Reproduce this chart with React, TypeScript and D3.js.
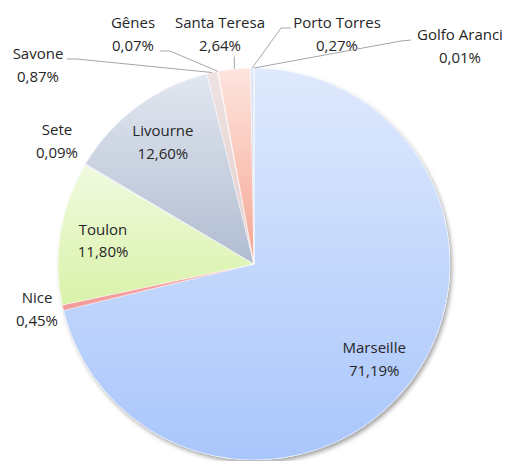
import React from "react";
import * as d3 from "d3";

const ports = ["Marseille", "Nice", "Toulon", "Sete", "Livourne", "Savone", "Gênes", "Santa Teresa", "Porto Torres", "Golfo Aranci"];
const shares = [71.19, 0.45, 11.8, 0.09, 12.6, 0.87, 0.07, 2.64, 0.27, 0.01];
const shareLabels = ["71,19%", "0,45%", "11,80%", "0,09%", "12,60%", "0,87%", "0,07%", "2,64%", "0,27%", "0,01%"];
const colorsTop = ["#dfe9fd", "#f8abab", "#f0fae0", "#dfe6f3", "#e2e7f0", "#efe2e2", "#f0e6e6", "#fee5df", "#dde7f8", "#e0e8f8"];
const colorsBottom = ["#a9c6fb", "#f29a9a", "#d9f2a8", "#c9d4e8", "#b0bcd1", "#e2cccc", "#e6d2d2", "#f6a590", "#c5d5f0", "#c5d5f0"];

const W = 508, H = 461;
const cx = 254, cy = 264, R = 196;
const lineGap = 22.5;

const outsideLayout: Record<string, { x: number; y: number; line?: number[][] }> = {
  Nice: { x: 37, y: 303 },
  Sete: { x: 57, y: 135 },
  Savone: { x: 38, y: 59, line: [[77, 59], [67, 59]] },
  "Gênes": { x: 133, y: 28, line: [[170, 51], [160, 51]] },
  "Santa Teresa": { x: 220, y: 28, line: [] },
  "Porto Torres": { x: 337, y: 28, line: [[281, 28], [291, 28]] },
  "Golfo Aranci": { x: 460, y: 40, line: [[401, 41], [411, 40]] },
};

export default function App() {
  const data = ports.map((p, i) => ({ name: p, value: shares[i], label: shareLabels[i], i }));
  const pie = d3.pie<any>().value((d) => d.value).sort(null).startAngle(0).endAngle(2 * Math.PI);
  const arcs = pie(data);
  const arc = d3.arc<any>().innerRadius(0).outerRadius(R);
  const labelArc = d3.arc<any>().innerRadius(R * 0.78).outerRadius(R * 0.78);
  const font = "'Open Sans', sans-serif";
  const fs = 15;

  return (
    <svg width={W} height={H} style={{ position: "absolute", left: 0, top: 0 }} fontFamily={font}>
      <defs>
        <filter id="shadow" x="-10%" y="-10%" width="130%" height="130%">
          <feDropShadow dx="2" dy="3" stdDeviation="2.2" floodColor="#000" floodOpacity="0.35" />
        </filter>
        {arcs.map((a, i) => (
          <linearGradient key={i} id={`g${i}`} x1="0" y1="0" x2="0" y2="1">
            <stop offset="0%" stopColor={colorsTop[i]} />
            <stop offset="100%" stopColor={colorsBottom[i]} />
          </linearGradient>
        ))}
      </defs>
      <g transform={`translate(${cx},${cy})`}>
        <circle r={R} fill="#fff" filter="url(#shadow)" />
        {arcs.map((a, i) => (
          <path key={i} d={arc(a) || ""} fill={`url(#g${i})`} stroke="#ffffff" strokeWidth={0.6} strokeOpacity={0.7} />
        ))}
      </g>
      {arcs.map((a, i) => {
        const name = a.data.name;
        const lay = outsideLayout[name];
        if (lay) {
          const mid = (a.startAngle + a.endAngle) / 2;
          const ax = cx + R * Math.sin(mid);
          const ay = cy - R * Math.cos(mid);
          let pts: number[][] | null = null;
          if (lay.line) {
            pts = lay.line.length ? [[ax, ay], ...lay.line] : [[ax, ay], [ax, lay.y + lineGap + 6]];
          }
          return (
            <g key={i}>
              {pts && (
                <polyline points={pts.map((p) => p.join(",")).join(" ")} fill="none" stroke="#a6a6a6" strokeWidth={1} />
              )}
              <text x={lay.x} y={lay.y} textAnchor="middle" fontSize={fs} fill="#262626">
                <tspan x={lay.x}>{name}</tspan>
                <tspan x={lay.x} dy={lineGap}>{a.data.label}</tspan>
              </text>
            </g>
          );
        }
        const [lx, ly] = labelArc.centroid(a);
        const x = cx + lx;
        const y = cy + ly;
        return (
          <text key={i} x={x} y={y - 5} textAnchor="middle" fontSize={fs} fill="#262626">
            <tspan x={x}>{name}</tspan>
            <tspan x={x} dy={lineGap}>{a.data.label}</tspan>
          </text>
        );
      })}
    </svg>
  );
}
